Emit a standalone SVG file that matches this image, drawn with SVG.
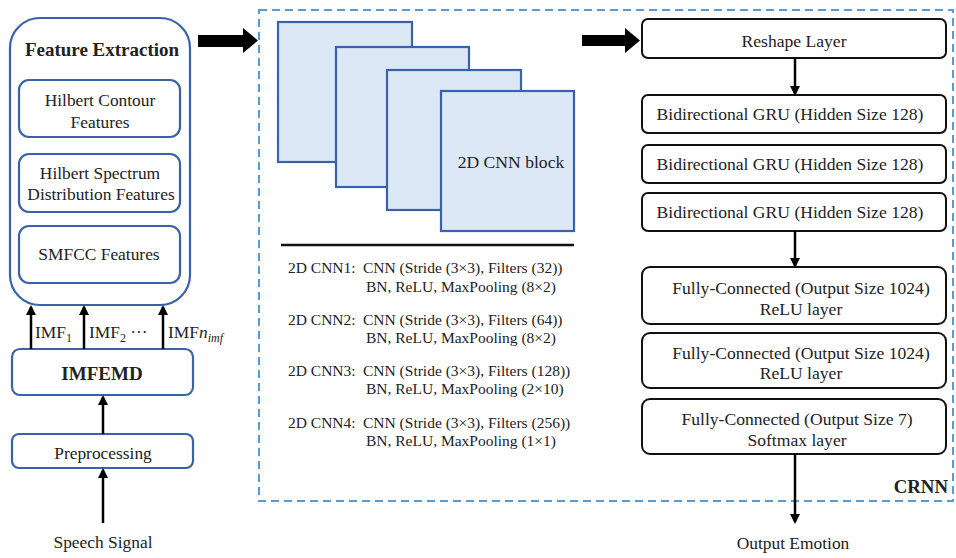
<svg xmlns="http://www.w3.org/2000/svg" width="956" height="558" viewBox="0 0 956 558">
<style>
text{font-family:"Liberation Serif","Times New Roman",serif;fill:#222;}
.bl{fill:none;stroke:#3a62a8;stroke-width:2.2;}
.bk{fill:#fff;stroke:#111;stroke-width:2;}
.sq{fill:#dce8f6;stroke:#3a62a8;stroke-width:2.2;}
.t16{font-size:17.4px;}
.t17{font-size:17.6px;}
.t14{font-size:15.5px;}
.ln{stroke:#000;stroke-width:2.5;fill:none;}
.c{text-anchor:middle;}
</style>
<defs>
<marker id="ah" markerWidth="10" markerHeight="10" refX="8" refY="5" orient="auto" markerUnits="userSpaceOnUse">
<path d="M0,0 L10,5 L0,10 z" fill="#000"/>
</marker>
</defs>
<rect width="956" height="558" fill="#fff"/>

<g id="crnn-frame">
<rect x="259" y="10" width="694" height="491" fill="none" stroke="#5b9bd5" stroke-width="2" stroke-dasharray="8,5"/>
<text x="948" y="493" font-size="18.8" font-weight="bold" text-anchor="end" fill="#111">CRNN</text>
</g>

<g id="feature-extraction">
<rect x="10" y="18" width="180" height="287" rx="30" class="bl" fill="#fff"/>
<text x="102" y="56" class="c" font-size="19" font-weight="bold" fill="#111">Feature Extraction</text>
</g>
<g id="hilbert-contour">
<rect x="19" y="80" width="161" height="57" rx="10" class="bl"/>
<text x="100" y="106" class="c t16">Hilbert Contour</text>
<text x="100" y="128" class="c t16">Features</text>
</g>
<g id="hilbert-spectrum">
<rect x="19" y="154" width="161" height="58" rx="10" class="bl"/>
<text x="100" y="179" class="c t16">Hilbert Spectrum</text>
<text x="101" y="200" class="c t16">Distribution Features</text>
</g>
<g id="smfcc">
<rect x="19" y="226" width="161" height="57" rx="10" class="bl"/>
<text x="99" y="260" class="c t16">SMFCC Features</text>
</g>
<g id="imfemd">
<rect x="12" y="349" width="181" height="46" rx="8" class="bl"/>
<text x="102" y="380" class="c" font-size="19" font-weight="bold" fill="#111">IMFEMD</text>
</g>
<g id="preprocessing">
<rect x="12" y="434" width="181" height="34" rx="7" class="bl"/>
<text x="103" y="459" class="c t16">Preprocessing</text>
</g>
<g id="speech-signal">
<text x="103" y="548" class="c t16">Speech Signal</text>
</g>

<g id="cnn-block">
<rect x="278" y="22" width="134" height="140" class="sq"/>
<rect x="336" y="47" width="133" height="140" class="sq"/>
<rect x="387" y="70" width="134" height="140" class="sq"/>
<rect x="441" y="91" width="133" height="140" class="sq"/>
<text x="511" y="168" class="c t17">2D CNN block</text>
<line x1="281" y1="245" x2="574" y2="245" stroke="#111" stroke-width="2.5"/>
</g>
<g id="cnn-specs">
<text x="288" y="273" class="t14">2D CNN1:</text>
<text x="363" y="273" class="t14">CNN (Stride (3×3), Filters (32))</text>
<text x="366" y="292" class="t14">BN, ReLU, MaxPooling (8×2)</text>
<text x="288" y="325" class="t14">2D CNN2:</text>
<text x="363" y="325" class="t14">CNN (Stride (3×3), Filters (64))</text>
<text x="366" y="343" class="t14">BN, ReLU, MaxPooling (8×2)</text>
<text x="288" y="376" class="t14">2D CNN3:</text>
<text x="363" y="376" class="t14">CNN (Stride (3×3), Filters (128))</text>
<text x="366" y="394" class="t14">BN, ReLU, MaxPooling (2×10)</text>
<text x="288" y="428" class="t14">2D CNN4:</text>
<text x="363" y="428" class="t14">CNN (Stride (3×3), Filters (256))</text>
<text x="366" y="446" class="t14">BN, ReLU, MaxPooling (1×1)</text>
</g>

<g id="reshape">
<rect x="642" y="19" width="304" height="39" rx="6" class="bk"/>
<text x="794" y="47" class="c t17">Reshape Layer</text>
</g>
<g id="gru1">
<rect x="642" y="95" width="304" height="38" rx="6" class="bk"/>
<text x="790" y="120" class="c t17">Bidirectional GRU (Hidden Size 128)</text>
</g>
<g id="gru2">
<rect x="642" y="145" width="304" height="38" rx="6" class="bk"/>
<text x="790" y="170" class="c t17">Bidirectional GRU (Hidden Size 128)</text>
</g>
<g id="gru3">
<rect x="642" y="193" width="304" height="38" rx="6" class="bk"/>
<text x="790" y="218" class="c t17">Bidirectional GRU (Hidden Size 128)</text>
</g>
<g id="fc1">
<rect x="642" y="267" width="304" height="57" rx="8" class="bk"/>
<text x="801" y="294" class="c t17">Fully-Connected (Output Size 1024)</text>
<text x="801" y="315" class="c t17">ReLU layer</text>
</g>
<g id="fc2">
<rect x="642" y="333" width="304" height="55" rx="8" class="bk"/>
<text x="801" y="359" class="c t17">Fully-Connected (Output Size 1024)</text>
<text x="801" y="379" class="c t17">ReLU layer</text>
</g>
<g id="fc3">
<rect x="642" y="399" width="304" height="55" rx="8" class="bk"/>
<text x="797" y="425" class="c t17">Fully-Connected (Output Size 7)</text>
<text x="797" y="446" class="c t17">Softmax layer</text>
</g>
<g id="output-emotion">
<text x="793" y="549" class="c t16">Output Emotion</text>
</g>

<g id="connectors">
<line x1="31" y1="349" x2="31" y2="307" class="ln" marker-end="url(#ah)"/>
<line x1="84" y1="349" x2="84" y2="307" class="ln" marker-end="url(#ah)"/>
<line x1="163" y1="349" x2="163" y2="307" class="ln" marker-end="url(#ah)"/>
<text x="35" y="338" class="t16">IMF<tspan font-size="12" dy="4">1</tspan></text>
<text x="89" y="338" class="t16">IMF<tspan font-size="12" dy="4">2</tspan><tspan dy="-4"> ···</tspan></text>
<text x="168" y="338" class="t16">IMF<tspan font-style="italic">n</tspan><tspan font-size="12" font-style="italic" dy="4">imf</tspan></text>
<line x1="103" y1="434" x2="103" y2="397" class="ln" marker-end="url(#ah)"/>
<line x1="103" y1="523" x2="103" y2="470" class="ln" marker-end="url(#ah)"/>
<path d="M198,35 H243 V28 L258,40.5 L243,53 V47 H198 z" fill="#000"/>
<path d="M582,35 H625 V28 L640,40.5 L625,53 V46 H582 z" fill="#000"/>
<line x1="795" y1="58" x2="795" y2="94" class="ln" marker-end="url(#ah)"/>
<line x1="795" y1="231" x2="795" y2="266" class="ln" marker-end="url(#ah)"/>
<line x1="795" y1="454" x2="795" y2="522" class="ln" marker-end="url(#ah)"/>
</g>
</svg>
